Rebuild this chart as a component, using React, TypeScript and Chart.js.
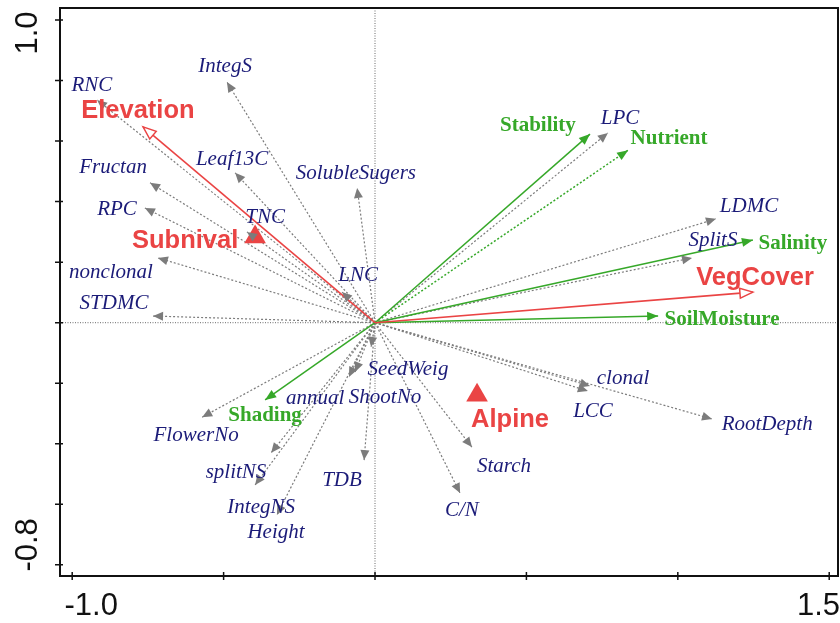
import React, { useEffect, useRef } from "react";
import { Chart, registerables } from "chart.js";
Chart.register(...registerables);

// Trait vectors (grey dotted arrows, navy italic labels)
const traitNames = ["RNC", "IntegS", "Leaf13C", "SolubleSugers", "Fructan", "RPC", "TNC", "nonclonal", "STDMC", "LNC", "LPC", "LDMC", "SplitS", "clonal", "LCC", "RootDepth", "Starch", "C/N", "SeedWeig", "ShootNo", "annual", "FlowerNo", "splitNS", "IntegNS", "Height", "TDB"];
const traitX = [-0.918, -0.489, -0.462, -0.059, -0.743, -0.76, -0.423, -0.717, -0.733, -0.109, 0.769, 1.126, 1.047, 0.71, 0.703, 1.113, 0.32, 0.281, -0.013, -0.066, -0.086, -0.571, -0.343, -0.396, -0.324, -0.036];
const traitY = [0.736, 0.795, 0.495, 0.445, 0.462, 0.379, 0.3, 0.214, 0.022, 0.101, 0.627, 0.343, 0.214, -0.209, -0.226, -0.318, -0.411, -0.563, -0.08, -0.163, -0.179, -0.312, -0.43, -0.536, -0.635, -0.454];
const traitLabelX = [-0.935, -0.495, -0.472, -0.063, -0.865, -0.852, -0.363, -0.872, -0.862, -0.056, 0.809, 1.235, 1.116, 0.819, 0.72, 1.295, 0.426, 0.287, 0.109, 0.033, -0.198, -0.591, -0.459, -0.376, -0.327, -0.109];
const traitLabelY = [0.785, 0.848, 0.54, 0.494, 0.514, 0.375, 0.349, 0.167, 0.065, 0.157, 0.676, 0.385, 0.27, -0.183, -0.292, -0.335, -0.474, -0.619, -0.153, -0.246, -0.252, -0.371, -0.494, -0.609, -0.692, -0.52];

// Environmental vectors (green)
const envNames = ["Stability", "Nutrient", "Salinity", "SoilMoisture", "Shading"];
const envX = [0.71, 0.836, 1.248, 0.935, -0.363];
const envY = [0.623, 0.57, 0.273, 0.022, -0.255];
const envDotted = [false, true, false, false, false];
const envLabelX = [0.538, 0.971, 1.38, 1.146, -0.363];
const envLabelY = [0.652, 0.609, 0.262, 0.011, -0.306];

// Main factors (red open arrows)
const factorNames = ["Elevation", "VegCover"];
const factorX = [-0.766, 1.248];
const factorY = [0.647, 0.101];
const factorLabelX = [-0.783, 1.255];
const factorLabelY = [0.7, 0.148];

// Sites (red triangles)
const siteNames = ["Subnival", "Alpine"];
const siteX = [-0.396, 0.337];
const siteY = [0.283, -0.24];
const siteLabelX = [-0.627, 0.446];
const siteLabelY = [0.27, -0.321];

// Axes
const xTicks = [-1.0, -0.5, 0, 0.5, 1.0, 1.5];
const yTicks = [1.0, 0.8, 0.6, 0.4, 0.2, 0, -0.2, -0.4, -0.6, -0.8];
const xTickLabelValues = [-1.0, 1.5];
const xTickLabelTexts = ["-1.0", "1.5"];
const yTickLabelValues = [1.0, -0.8];
const yTickLabelTexts = ["1.0", "-0.8"];

const GREY = "#7c7c7c";
const NAVY = "#1b1b78";
const GREEN = "#36a829";
const RED = "#ea4444";

function drawHead(ctx: CanvasRenderingContext2D, x0: number, y0: number, x1: number, y1: number, len: number, half: number, color: string, open: boolean) {
  const a = Math.atan2(y1 - y0, x1 - x0);
  const bx = x1 - Math.cos(a) * len;
  const by = y1 - Math.sin(a) * len;
  const px = -Math.sin(a) * half;
  const py = Math.cos(a) * half;
  ctx.save();
  ctx.setLineDash([]);
  ctx.beginPath();
  ctx.moveTo(x1, y1);
  ctx.lineTo(bx + px, by + py);
  ctx.lineTo(bx - px, by - py);
  ctx.closePath();
  if (open) {
    ctx.fillStyle = "#ffffff";
    ctx.fill();
    ctx.strokeStyle = color;
    ctx.lineWidth = 1.5;
    ctx.stroke();
  } else {
    ctx.fillStyle = color;
    ctx.fill();
  }
  ctx.restore();
}

const biplotPlugin = {
  id: "biplot",
  beforeDatasetsDraw(chart: any) {
    const { ctx, chartArea: ca, scales } = chart;
    const xs = scales.x;
    const ys = scales.y;
    ctx.save();
    // center dotted lines
    ctx.strokeStyle = "#6a6a6a";
    ctx.lineWidth = 1;
    ctx.setLineDash([1, 1.5]);
    const x0 = xs.getPixelForValue(0);
    const y0 = ys.getPixelForValue(0);
    ctx.beginPath();
    ctx.moveTo(x0, ca.top);
    ctx.lineTo(x0, ca.bottom);
    ctx.moveTo(ca.left, y0);
    ctx.lineTo(ca.right, y0);
    ctx.stroke();
    ctx.setLineDash([]);
    // frame
    ctx.strokeStyle = "#111";
    ctx.lineWidth = 2;
    ctx.strokeRect(ca.left, ca.top, ca.right - ca.left, ca.bottom - ca.top);
    // ticks
    ctx.lineWidth = 1.5;
    ctx.beginPath();
    xTicks.forEach((v) => {
      const p = xs.getPixelForValue(v);
      ctx.moveTo(p, ca.bottom - 4);
      ctx.lineTo(p, ca.bottom + 4);
    });
    yTicks.forEach((v) => {
      const p = ys.getPixelForValue(v);
      ctx.moveTo(ca.left - 5, p);
      ctx.lineTo(ca.left + 3, p);
    });
    ctx.stroke();
    // tick labels
    ctx.fillStyle = "#111";
    ctx.font = "31px 'Liberation Sans', Arial, sans-serif";
    ctx.textBaseline = "top";
    xTickLabelValues.forEach((v, i) => {
      const p = xs.getPixelForValue(v);
      if (i === 0) {
        ctx.textAlign = "center";
        ctx.fillText(xTickLabelTexts[i], p + 19, ca.bottom + 15);
      } else {
        ctx.textAlign = "right";
        ctx.fillText(xTickLabelTexts[i], chart.width, ca.bottom + 15);
      }
    });
    yTickLabelValues.forEach((v, i) => {
      const p = ys.getPixelForValue(v);
      ctx.save();
      ctx.translate(28, i === 0 ? p + 13 : p - 20);
      ctx.rotate(-Math.PI / 2);
      ctx.textAlign = "center";
      ctx.textBaseline = "middle";
      ctx.fillText(yTickLabelTexts[i], 0, 0);
      ctx.restore();
    });
    ctx.restore();
  },
  afterDatasetsDraw(chart: any) {
    const { ctx, scales } = chart;
    const xs = scales.x;
    const ys = scales.y;
    const ox = xs.getPixelForValue(0);
    const oy = ys.getPixelForValue(0);
    ctx.save();
    traitNames.forEach((_, i) => {
      drawHead(ctx, ox, oy, xs.getPixelForValue(traitX[i]), ys.getPixelForValue(traitY[i]), 10, 4.5, GREY, false);
    });
    envNames.forEach((_, i) => {
      drawHead(ctx, ox, oy, xs.getPixelForValue(envX[i]), ys.getPixelForValue(envY[i]), 11, 4.5, GREEN, false);
    });
    factorNames.forEach((_, i) => {
      drawHead(ctx, ox, oy, xs.getPixelForValue(factorX[i]), ys.getPixelForValue(factorY[i]), 13, 5, RED, true);
    });
    ctx.textAlign = "center";
    ctx.textBaseline = "middle";
    ctx.fillStyle = NAVY;
    ctx.font = "italic 21px 'Liberation Serif', 'Times New Roman', serif";
    traitNames.forEach((n, i) => {
      ctx.fillText(n, xs.getPixelForValue(traitLabelX[i]), ys.getPixelForValue(traitLabelY[i]));
    });
    ctx.fillStyle = GREEN;
    ctx.font = "bold 21px 'Liberation Serif', 'Times New Roman', serif";
    envNames.forEach((n, i) => {
      ctx.fillText(n, xs.getPixelForValue(envLabelX[i]), ys.getPixelForValue(envLabelY[i]));
    });
    ctx.fillStyle = RED;
    ctx.font = "bold 25.5px 'Liberation Sans', Arial, sans-serif";
    factorNames.forEach((n, i) => {
      ctx.fillText(n, xs.getPixelForValue(factorLabelX[i]), ys.getPixelForValue(factorLabelY[i]));
    });
    siteNames.forEach((n, i) => {
      ctx.fillText(n, xs.getPixelForValue(siteLabelX[i]), ys.getPixelForValue(siteLabelY[i]));
    });
    ctx.restore();
  },
};

export default function App() {
  const ref = useRef<HTMLCanvasElement | null>(null);
  useEffect(() => {
    document.body.style.margin = "0";
    if (!ref.current) return;
    const datasets: any[] = [];
    siteNames.forEach((n, i) => {
      datasets.push({
        type: "scatter",
        label: n,
        data: [{ x: siteX[i], y: siteY[i] }],
        pointStyle: "triangle",
        pointRadius: 12.5,
        backgroundColor: RED,
        borderColor: RED,
        borderWidth: 0,
        order: 0,
      });
    });
    factorNames.forEach((n, i) => {
      datasets.push({
        type: "line",
        label: n,
        data: [{ x: 0, y: 0 }, { x: factorX[i], y: factorY[i] }],
        borderColor: RED,
        borderWidth: 1.6,
        pointRadius: 0,
        order: 1,
      });
    });
    envNames.forEach((n, i) => {
      datasets.push({
        type: "line",
        label: n,
        data: [{ x: 0, y: 0 }, { x: envX[i], y: envY[i] }],
        borderColor: GREEN,
        borderWidth: 1.5,
        borderDash: envDotted[i] ? [2, 2] : [],
        pointRadius: 0,
        order: 2,
      });
    });
    traitNames.forEach((n, i) => {
      datasets.push({
        type: "line",
        label: n,
        data: [{ x: 0, y: 0 }, { x: traitX[i], y: traitY[i] }],
        borderColor: GREY,
        borderWidth: 1.2,
        borderDash: [2, 2],
        pointRadius: 0,
        order: 3,
      });
    });
    const chart = new Chart(ref.current, {
      type: "scatter",
      data: { datasets },
      options: {
        responsive: false,
        animation: false,
        events: [],
        layout: { autoPadding: false, padding: { top: 8, right: 2, left: 0, bottom: 0 } },
        plugins: { legend: { display: false }, tooltip: { enabled: false } },
        scales: {
          x: {
            type: "linear",
            min: -1.0403,
            max: 1.529,
            ticks: { display: false },
            grid: { display: false },
            border: { display: false },
            afterFit: (s: any) => { s.height = 47; },
          },
          y: {
            type: "linear",
            min: -0.8368,
            max: 1.0396,
            ticks: { display: false },
            grid: { display: false },
            border: { display: false },
            afterFit: (s: any) => { s.width = 60; },
          },
        },
      },
      plugins: [biplotPlugin],
    });
    return () => chart.destroy();
  }, []);
  return (
    <div style={{ width: 840, height: 623 }}>
      <canvas ref={ref} width={840} height={623} style={{ display: "block" }} />
    </div>
  );
}
